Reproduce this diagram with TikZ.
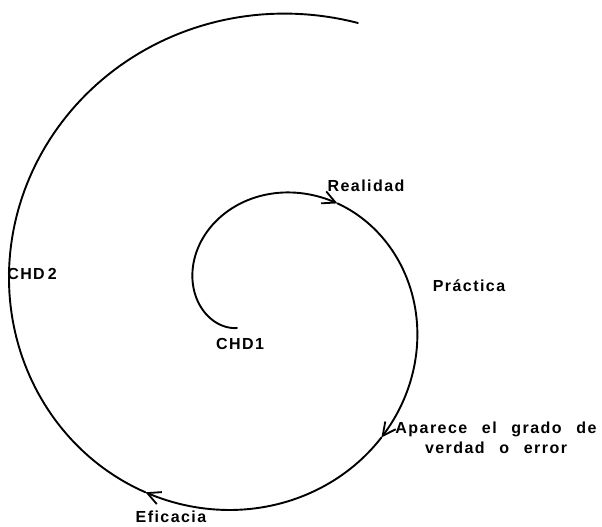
\documentclass[tikz,border=0pt]{standalone}
\usepackage{fontspec}
\setmainfont{Liberation Sans}[LetterSpace=9, WordSpace=2.5]
\usetikzlibrary{arrows.meta}
\begin{document}
\begin{tikzpicture}[x=1pt,y=1pt,
  declare function={spr(\t)=156.6-0.5255*\t-(0.010649*\t)*(0.010649*\t);},
  spiral/.style={line width=1.9pt, line cap=round},
  arr/.style={-{Straight Barb[length=13pt,width=13pt,line width=1.8pt]}},
  lbl/.style={font=\fontsize{16}{20}\selectfont\bfseries, inner sep=0pt}]
\useasboundingbox (0,0) rectangle (602,527);
% spiral, drawn outward from the inner end in four pieces
\draw[spiral,arr] plot[domain=227.6:52, samples=90, variable=\t] ({258+spr(\t)*cos(\t)},{222+spr(\t)*sin(\t)});
\draw[spiral,arr] plot[domain=52:-47, samples=60, variable=\t] ({258+spr(\t)*cos(\t)},{222+spr(\t)*sin(\t)});
\draw[spiral,arr] plot[domain=-47:-121, samples=50, variable=\t] ({258+spr(\t)*cos(\t)},{222+spr(\t)*sin(\t)});
\draw[spiral] plot[domain=-121:-289.5, samples=110, variable=\t] ({258+spr(\t)*cos(\t)},{222+spr(\t)*sin(\t)});
% labels
\node[lbl] (realidad) at (366,341) {Realidad};
\node[lbl] (practica) at (469,241) {Práctica};
\node[lbl, align=center] (aparece) at (496,89) {Aparece el grado de\\verdad o error};
\node[lbl] (eficacia) at (171,10) {Eficacia};
\node[lbl] (chd2) at (32,253) {CHD\hspace{3pt}2};
\node[lbl] (chd1) at (240,183) {CHD1};
\end{tikzpicture}
\end{document}
